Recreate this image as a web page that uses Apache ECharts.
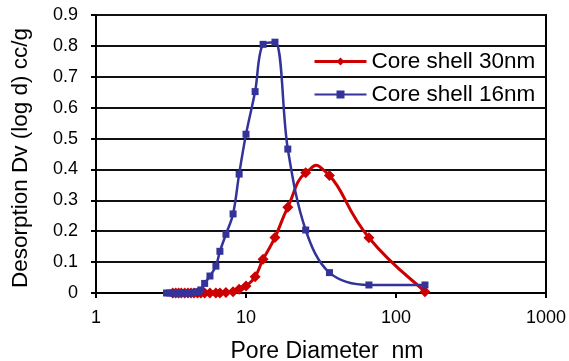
<!DOCTYPE html>
<html>
<head>
<meta charset="utf-8">
<script src="https://cdn.jsdelivr.net/npm/echarts@6/dist/echarts.min.js"></script>
<style>
  html, body { margin: 0; padding: 0; background: #fff; }
  #chart { width: 569px; height: 361px; }
</style>
</head>
<body>
<div id="chart"></div>
<script>
// pore diameter (nm) and desorption Dv(log d)
const diam30 = [3.25, 3.4, 3.55, 3.7, 3.9, 4.1, 4.3, 4.5, 4.75, 5.0, 5.3, 5.75, 6.3, 6.7, 7.35, 8.2, 9.0, 10.0, 11.5, 13.0, 15.6, 19.0, 25.0, 36.0, 66.0, 156.0];
const dv30 = [0, 0, 0, 0, 0, 0, 0, 0, 0, 0, 0, 0, 0, 0, 0.002, 0.004, 0.012, 0.023, 0.053, 0.109, 0.18, 0.278, 0.389, 0.38, 0.179, 0.004];

const diam16 = [2.95, 3.1, 3.25, 3.4, 3.55, 3.7, 3.9, 4.1, 4.3, 4.5, 4.75, 5.0, 5.3, 5.75, 6.3, 6.7, 7.35, 8.2, 9.0, 10.0, 11.5, 13.0, 15.6, 19.0, 25.0, 36.0, 66.0, 156.0];
const dv16 = [0, 0, 0, 0, 0, 0, 0, 0, 0, 0.002, 0.004, 0.01, 0.031, 0.055, 0.087, 0.135, 0.19, 0.256, 0.385, 0.514, 0.652, 0.805, 0.812, 0.466, 0.204, 0.066, 0.026, 0.026];

const seriesNames = ['Core shell 30nm', 'Core shell 16nm'];
const xTicks = [1, 10, 100, 1000];

const FONT = '"Liberation Sans", Arial, sans-serif';
const RED = '#cc0000';
const BLUE = '#333399';

const chart = echarts.init(document.getElementById('chart'));

const pairs = (xs, ys) => xs.map((x, i) => [x, ys[i]]);

// Excel-style smoothed line: cubic bezier per segment, control points from neighbours
const TENSION = 0.25;
const smoothSegment = (xs, ys, color, width) => (params, api) => {
  const n = xs.length;
  const i = params.dataIndex;
  if (i >= n - 1) return { type: 'group', children: [] };
  const pt = (k) => {
    const j = Math.max(0, Math.min(n - 1, k));
    return api.coord([xs[j], ys[j]]);
  };
  const p0 = pt(i - 1), p1 = pt(i), p2 = pt(i + 1), p3 = pt(i + 2);
  return {
    type: 'bezierCurve',
    shape: {
      x1: p1[0], y1: p1[1],
      x2: p2[0], y2: p2[1],
      cpx1: p1[0] + TENSION * (p2[0] - p0[0]),
      cpy1: p1[1] + TENSION * (p2[1] - p0[1]),
      cpx2: p2[0] - TENSION * (p3[0] - p1[0]),
      cpy2: p2[1] - TENSION * (p3[1] - p1[1]),
    },
    style: { stroke: color, lineWidth: width, fill: null },
  };
};

chart.setOption({
  animation: false,
  textStyle: { fontFamily: FONT, color: '#000' },
  grid: {
    left: 96,
    right: 23,
    top: 15,
    bottom: 68,
    outerBoundsMode: 'none',
    show: true,
    borderColor: '#000',
    borderWidth: 2,
  },
  legend: {
    orient: 'vertical',
    left: 308,
    top: 45,
    itemWidth: 52,
    itemHeight: 10,
    itemGap: 10,
    textStyle: { fontFamily: FONT, fontSize: 22.5, color: '#000' },
    data: [
      { name: seriesNames[0], lineStyle: { opacity: 1, width: 3, color: RED } },
      { name: seriesNames[1] },
    ],
  },
  xAxis: {
    type: 'log',
    logBase: 10,
    min: 1,
    max: 1000,
    name: 'Pore Diameter  nm',
    nameLocation: 'middle',
    nameGap: 47,
    nameTextStyle: { fontFamily: FONT, fontSize: 23, color: '#000', padding: [0, 0, 0, 12] },
    axisLine: { lineStyle: { color: '#000', width: 2 } },
    axisTick: { show: true, length: 5, lineStyle: { color: '#000', width: 2 } },
    axisLabel: {
      fontFamily: FONT,
      fontSize: 18,
      color: '#000',
      margin: 16,
      formatter: (v) => (xTicks.includes(Math.round(v)) ? String(Math.round(v)) : ''),
    },
    splitLine: { show: false },
    minorTick: { show: false },
  },
  yAxis: {
    type: 'value',
    min: 0,
    max: 0.9,
    interval: 0.1,
    name: 'Desorption Dv (log d) cc/g',
    nameLocation: 'middle',
    nameGap: 64,
    nameTextStyle: { fontFamily: FONT, fontSize: 22.5, color: '#000', padding: [0, 8, 0, 0] },
    axisLine: { show: true, lineStyle: { color: '#000', width: 2 } },
    axisTick: { show: true, length: 5, lineStyle: { color: '#000', width: 2 } },
    axisLabel: {
      fontFamily: FONT,
      fontSize: 18,
      color: '#000',
      margin: 18,
      formatter: (v) => String(Math.round(v * 10) / 10),
    },
    splitLine: { show: true, lineStyle: { color: '#111', width: 2 } },
  },
  series: [
    {
      name: 'curve30',
      type: 'custom',
      data: pairs(diam30, dv30),
      encode: { x: 0, y: 1 },
      renderItem: smoothSegment(diam30, dv30, RED, 3),
      silent: true,
    },
    {
      name: seriesNames[0],
      type: 'line',
      data: pairs(diam30, dv30),
      symbol: 'diamond',
      symbolSize: 11,
      showAllSymbol: true,
      lineStyle: { color: RED, width: 3, opacity: 0 },
      itemStyle: { color: RED },
    },
    {
      name: seriesNames[1],
      type: 'line',
      data: pairs(diam16, dv16),
      smooth: 0.35,
      symbol: 'rect',
      symbolSize: 7,
      showAllSymbol: true,
      lineStyle: { color: BLUE, width: 2.5 },
      itemStyle: { color: BLUE },
    },
  ],
});
</script>
</body>
</html>
